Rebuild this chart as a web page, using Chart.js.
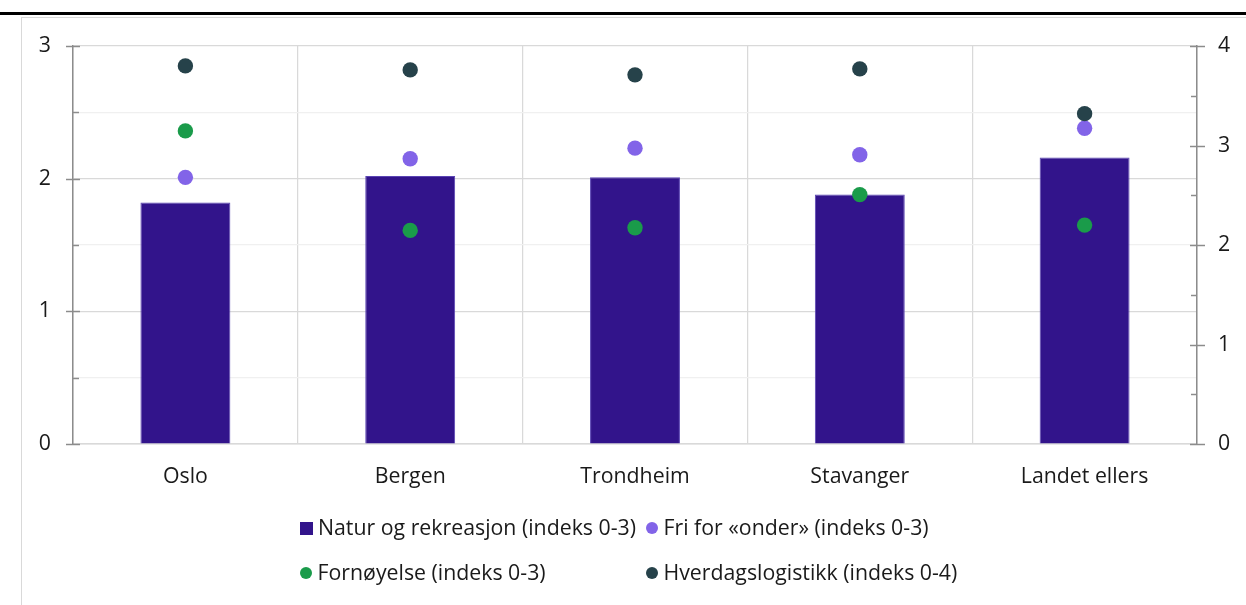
<!DOCTYPE html>
<html>
<head>
<meta charset="utf-8">
<script src="https://cdn.jsdelivr.net/npm/chart.js@4/dist/chart.umd.min.js"></script>
<style>
  html, body { margin: 0; padding: 0; background: #fff; }
  #wrap { position: relative; width: 1246px; height: 605px; overflow: hidden; }
  #topbar { position: absolute; left: 0; top: 12px; width: 1246px; height: 3px; background: #000; }
  #frame { position: absolute; left: 21px; top: 17px; width: 1240px; height: 600px;
           border-left: 1px solid #d9d9d9; border-top: 1px solid #d9d9d9; }
  canvas { position: absolute; left: 0; top: 0; }
  .leg { position: absolute; font-family: 'Open Sans', sans-serif; font-size: 21.3px; color: #1a1a1a;
         white-space: nowrap; line-height: 28px; }
  .mk { position: absolute; }
</style>
</head>
<body>
<div id="wrap">
  <div id="topbar"></div>
  <div id="frame"></div>
  <canvas id="c" width="1246" height="605"></canvas>
  <div id="legend"></div>
</div>
<script>
const categories = ['Oslo', 'Bergen', 'Trondheim', 'Stavanger', 'Landet ellers'];
const naturRekreasjon = [1.82, 2.02, 2.01, 1.88, 2.16];
const friForOnder = [2.01, 2.15, 2.23, 2.18, 2.38];
const fornoyelse = [2.36, 1.61, 1.63, 1.88, 1.65];
const hverdagslogistikk = [3.80, 3.76, 3.71, 3.77, 3.32];
const seriesLabels = ['Natur og rekreasjon (indeks 0-3)', 'Fri for «onder» (indeks 0-3)',
                      'Fornøyelse (indeks 0-3)', 'Hverdagslogistikk (indeks 0-4)'];
const leftTicks = [0, 1, 2, 3];
const rightTicks = [0, 1, 2, 3, 4];

const C_BAR = '#32148b', C_PURPLE = '#8264e8', C_GREEN = '#1a9b4a', C_DARK = '#26424a';
const AXIS_GRAY = '#8c8c8c';

Chart.defaults.font.family = "'Open Sans', sans-serif";
Chart.defaults.font.size = 21.3;
Chart.defaults.color = '#1a1a1a';

const tickMarks = {
  id: 'tickMarks',
  afterDraw(chart) {
    const ctx = chart.ctx;
    ctx.save();
    ctx.strokeStyle = AXIS_GRAY;
    ctx.lineWidth = 1.5;
    const y = chart.scales.y, y2 = chart.scales.y2;
    const ax = chart.chartArea.left, bx = chart.chartArea.right;
    y.ticks.forEach(t => {
      const p = Math.round(y.getPixelForValue(t.value)) + 0.5;
      ctx.beginPath();
      if (Number.isInteger(t.value)) { ctx.moveTo(ax - 7, p); ctx.lineTo(ax + 7, p); }
      else { ctx.moveTo(ax, p); ctx.lineTo(ax + 6, p); }
      ctx.stroke();
    });
    y2.ticks.forEach(t => {
      const p = Math.round(y2.getPixelForValue(t.value)) + 0.5;
      ctx.beginPath();
      if (Number.isInteger(t.value)) { ctx.moveTo(bx - 7, p); ctx.lineTo(bx + 8, p); }
      else { ctx.moveTo(bx - 6, p); ctx.lineTo(bx, p); }
      ctx.stroke();
    });
    ctx.restore();
  }
};

const pointDs = (label, data, color, axis, order) => ({
  type: 'line', label, data, yAxisID: axis, showLine: false,
  pointRadius: 7.7, pointHoverRadius: 7.7, pointBackgroundColor: color,
  pointBorderColor: color, pointBorderWidth: 0, backgroundColor: color, borderColor: color, order
});

new Chart(document.getElementById('c'), {
  type: 'bar',
  data: {
    labels: categories,
    datasets: [
      { label: seriesLabels[0], data: naturRekreasjon, backgroundColor: C_BAR,
        borderColor: '#5a44b3', borderWidth: 1, yAxisID: 'y', order: 10,
        categoryPercentage: 0.8, barPercentage: 0.5 },
      pointDs(seriesLabels[1], friForOnder, C_PURPLE, 'y', 3),
      pointDs(seriesLabels[2], fornoyelse, C_GREEN, 'y', 2),
      pointDs(seriesLabels[3], hverdagslogistikk, C_DARK, 'y2', 1)
    ]
  },
  options: {
    responsive: false,
    animation: false,
    layout: { padding: { top: 46, left: 0, right: 0, bottom: 0 } },
    plugins: { legend: { display: false }, tooltip: { enabled: false } },
    scales: {
      x: {
        grid: { offset: true, color: '#d9d9d9', lineWidth: 1.25, drawTicks: false },
        border: { color: '#d9d9d9', width: 1.5 },
        ticks: { padding: 20 },
        afterFit: s => { s.height = 161; }
      },
      y: {
        position: 'left', min: 0, max: 3,
        grid: { drawTicks: false, lineWidth: 1.25,
                color: c => Number.isInteger(c.tick.value) ? '#d9d9d9' : '#f0f0f0' },
        border: { color: AXIS_GRAY, width: 1.5 },
        ticks: { stepSize: 0.5, padding: 22, autoSkip: false,
                 callback: v => leftTicks.includes(v) ? String(v) : '' },
        afterFit: s => { s.width = 73; }
      },
      y2: {
        position: 'right', min: 0, max: 4,
        grid: { drawOnChartArea: false, drawTicks: false },
        border: { color: AXIS_GRAY, width: 1.5 },
        ticks: { stepSize: 0.5, padding: 21, autoSkip: false,
                 callback: v => rightTicks.includes(v) ? String(v) : '' },
        afterFit: s => { s.width = 49; }
      }
    }
  },
  plugins: [tickMarks]
});

// HTML legend built from series labels/colours
const legendItems = [
  { text: seriesLabels[0], color: C_BAR, shape: 'square', x: 306, y: 528 },
  { text: seriesLabels[1], color: C_PURPLE, shape: 'circle', x: 651.5, y: 528 },
  { text: seriesLabels[2], color: C_GREEN, shape: 'circle', x: 305.5, y: 573 },
  { text: seriesLabels[3], color: C_DARK, shape: 'circle', x: 651.5, y: 573 }
];
const lg = document.getElementById('legend');
legendItems.forEach(it => {
  const mk = document.createElement('div');
  mk.className = 'mk';
  const sz = it.shape === 'square' ? 13 : 12;
  mk.style.left = (it.x - sz / 2) + 'px';
  mk.style.top = (it.y - sz / 2) + 'px';
  mk.style.width = sz + 'px';
  mk.style.height = sz + 'px';
  mk.style.background = it.color;
  if (it.shape === 'circle') mk.style.borderRadius = '50%';
  lg.appendChild(mk);
  const tx = document.createElement('div');
  tx.className = 'leg';
  tx.textContent = it.text;
  tx.style.left = (it.x + 12) + 'px';
  tx.style.top = (it.y - 15) + 'px';
  lg.appendChild(tx);
});
</script>
</body>
</html>
